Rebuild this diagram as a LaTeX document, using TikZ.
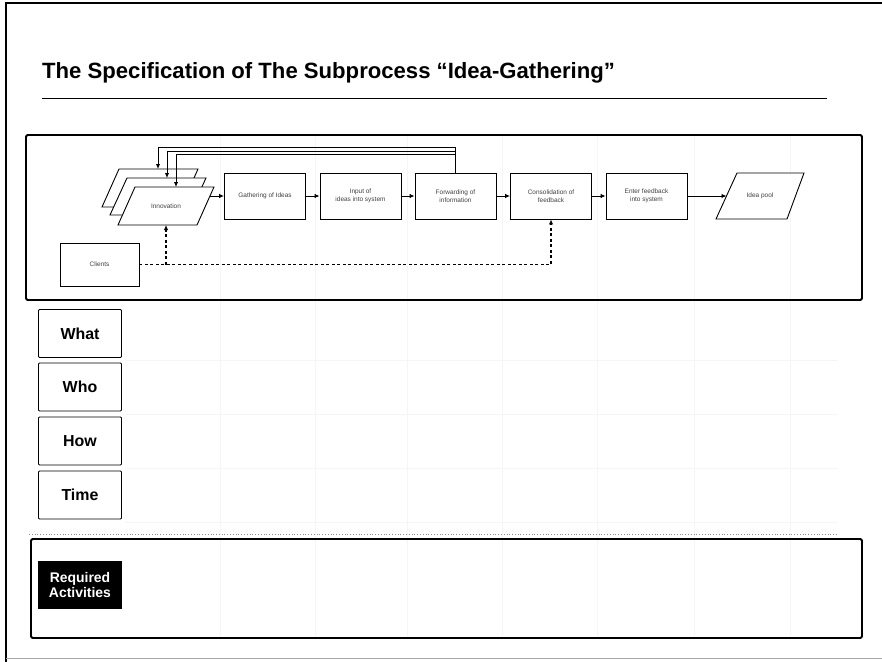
\documentclass[tikz,border=0pt]{standalone}
\usepackage{fontspec}
\setmainfont{Liberation Sans}
\usetikzlibrary{arrows.meta}
\begin{document}
\begin{tikzpicture}[x=1bp,y=-1bp,
  proc/.style={draw, line width=0.9bp, minimum width=81bp, minimum height=46bp,
    inner sep=1bp, align=center, text=black!75, font=\fontsize{6.5}{7.8}\selectfont},
  iobox/.style={draw, line width=0.9bp, fill=white, line join=miter},
  iotext/.style={inner sep=1bp, text=black!75, font=\fontsize{6.5}{7.8}\selectfont},
  rowlabel/.style={draw, line width=0.9bp, rounded corners=1bp, minimum width=83bp,
    minimum height=48bp, font=\bfseries\fontsize{16}{18}\selectfont},
  flow/.style={line width=0.9bp, -{Latex[length=5bp,width=4.5bp]}},
  dashflow/.style={line width=1.2bp, dash pattern=on 3bp off 2.5bp,
    -{Latex[length=5bp,width=4.5bp]}},
  frame/.style={line width=1.8bp, rounded corners=1.5bp},
  faint/.style={line width=0.6bp, black!4}]

\useasboundingbox (0,0) rectangle (882,662);

% page border
\draw[line width=1.5bp] (882,3) -- (6,3) -- (6,662);
\draw[line width=0.8bp, black!35] (6,658) -- (882,658);

% title and rule
\node[anchor=base west, inner sep=0, font=\bfseries\fontsize{22.2}{25}\selectfont] (title)
  at (42,79) {The Specification of The Subprocess “Idea-Gathering”};
\draw[line width=1bp] (42,99) -- (827,99);

% faint grid of the specification table
\foreach \gx in {220,315,407,502,597,694,790}
  \draw[faint] (\gx,137) -- (\gx,636);
\foreach \gy in {360,414,468,522}
  \draw[faint] (125,\gy) -- (838,\gy);

% process frame
\draw[frame] (26,135) rectangle (862,300);

% stacked innovation documents
\draw[iobox] (102,207) -- (181,207) -- (198,169) -- (119,169) -- cycle;
\draw[iobox] (110,215) -- (189,215) -- (206,178) -- (127,178) -- cycle;
\draw[iobox] (118,225) -- (197,225) -- (214,187) -- (135,187) -- cycle;
\node[iotext] (innov) at (166,206) {Innovation};
\coordinate (backT) at (158,169);
\coordinate (midT) at (167,178);
\coordinate (frontT) at (176,187);
\coordinate (innovR) at (210,196);
\coordinate (innovB) at (166,225);

% process steps
\node[proc] (gather) at (265,196) {Gathering of Ideas};
\node[proc] (input) at (360.5,196) {Input of\\ideas into system};
\node[proc] (fwd) at (455.5,196) {Forwarding of\\information};
\node[proc] (cons) at (551,196) {Consolidation of\\feedback};
\node[proc] (enter) at (646.5,196) {Enter feedback\\into system};

% idea pool
\draw[iobox] (716,219) -- (787,219) -- (804,173) -- (737,173) -- cycle;
\node[iotext] (pool) at (760,196) {Idea pool};
\coordinate (poolL) at (726.5,196);

% clients
\node[proc, minimum width=79bp, minimum height=43bp] (clients) at (99.5,264.5) {Clients};

% main flow
\draw[flow] (innovR) -- (gather);
\draw[flow] (gather) -- (input);
\draw[flow] (input) -- (fwd);
\draw[flow] (fwd) -- (cons);
\draw[flow] (cons) -- (enter);
\draw[flow] (enter) -- (poolL);

% loops back to the innovation documents
\draw[flow] (fwd.north) -- ++(0,-25) -| (backT);
\draw[flow] (fwd.north) -- ++(0,-21.5) -| (midT);
\draw[flow] (fwd.north) -- ++(0,-18) -| (frontT);

% client input
\draw[dashflow] (clients.east) -| (cons.south);
\draw[dashflow] (innovB |- clients.east) -- (innovB);

% row labels
\node[rowlabel] (what) at (80,333.5) {What};
\node[rowlabel] (who) at (80,387) {Who};
\node[rowlabel] (how) at (80,441) {How};
\node[rowlabel] (time) at (80,495) {Time};

% separator
\draw[line width=0.8bp, black!45, dotted] (29,534) -- (838,534);

% required activities
\draw[frame] (31,539) rectangle (862,638);
\node[fill=black, minimum width=84bp, minimum height=48bp, inner sep=1bp, text=white,
  align=center, font=\bfseries\fontsize{14}{15}\selectfont] (req) at (80,585)
  {Required\\Activities};

\end{tikzpicture}
\end{document}
